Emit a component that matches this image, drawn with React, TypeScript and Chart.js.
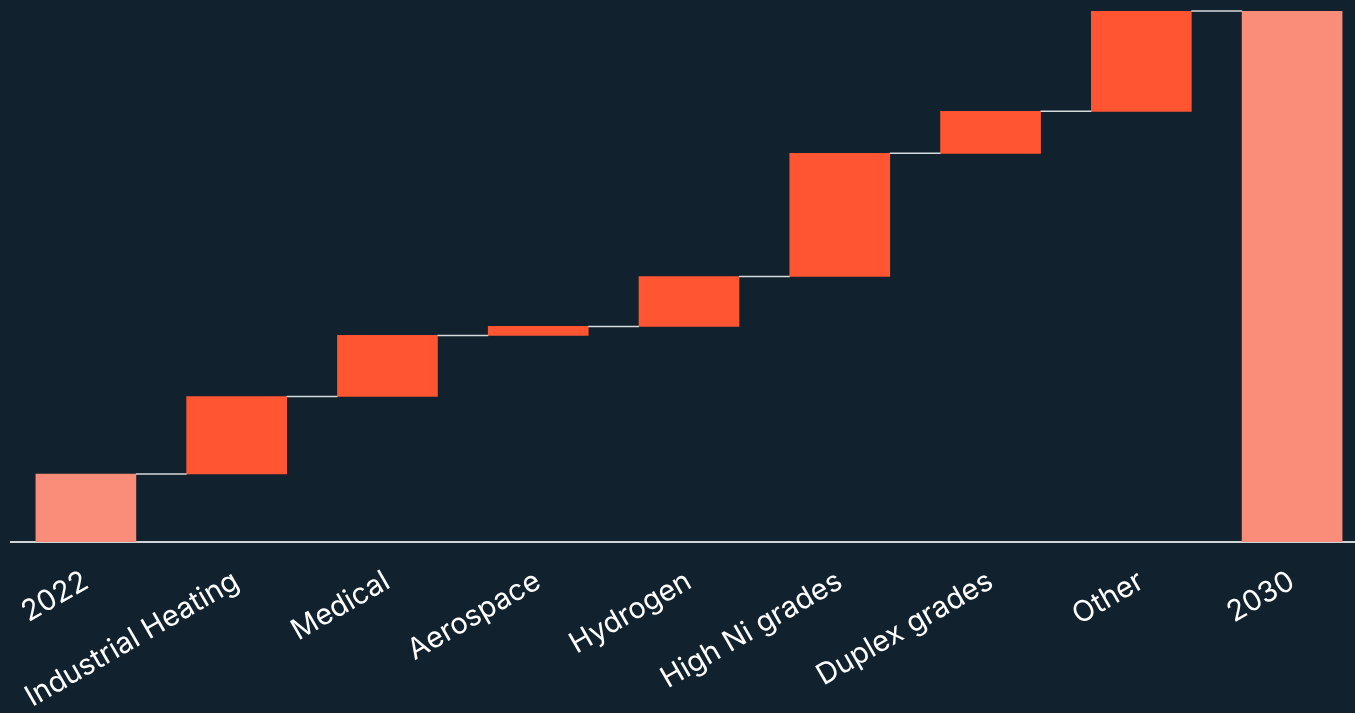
import React, { useEffect, useRef } from "react";
import { Chart, registerables } from "chart.js";

Chart.register(...registerables);

const categories = [
  "2022",
  "Industrial Heating",
  "Medical",
  "Aerospace",
  "Hydrogen",
  "High Ni grades",
  "Duplex grades",
  "Other",
  "2030",
];
const startValue = 12.8;
const increments = [14.6, 11.5, 1.7, 9.4, 23.2, 7.9, 18.9];
const endValue = 100;

const totalColor = "#FA8C7A";
const incColor = "#FF5533";
const bgColor = "#11222E";

function buildRanges(): [number, number][] {
  const ranges: [number, number][] = [[0, startValue]];
  let cur = startValue;
  for (const inc of increments) {
    ranges.push([cur, cur + inc]);
    cur += inc;
  }
  ranges.push([0, endValue]);
  return ranges;
}

export default function App() {
  const ref = useRef<HTMLCanvasElement | null>(null);
  useEffect(() => {
    if (!ref.current) return;
    const ranges = buildRanges();
    const connectorPlugin = {
      id: "connectors",
      afterDatasetsDraw(chart: any) {
        const meta = chart.getDatasetMeta(0);
        const ys = chart.scales.y;
        const ctx = chart.ctx;
        ctx.save();
        ctx.strokeStyle = "#D5DADD";
        ctx.lineWidth = 1.5;
        for (let i = 0; i < meta.data.length - 1; i++) {
          const a = meta.data[i];
          const b = meta.data[i + 1];
          const py = ys.getPixelForValue(ranges[i][1]);
          ctx.beginPath();
          ctx.moveTo(a.x + a.width / 2, py);
          ctx.lineTo(b.x - b.width / 2, py);
          ctx.stroke();
        }
        ctx.restore();
      },
    };
    const chart = new Chart(ref.current, {
      type: "bar",
      data: {
        labels: categories,
        datasets: [
          {
            data: ranges as any,
            backgroundColor: categories.map((_, i) =>
              i === 0 || i === categories.length - 1 ? totalColor : incColor
            ),
            borderWidth: 0,
            borderSkipped: false,
            barThickness: 100,
          },
        ],
      },
      options: {
        responsive: false,
        animation: false,
        layout: { padding: { top: 11, left: 10.5, right: 0.5, bottom: 0 } },
        plugins: {
          legend: { display: false },
          tooltip: { enabled: false },
        },
        scales: {
          x: {
            grid: { display: false, drawTicks: false },
            border: { display: true, color: "#D0D4D7", width: 2 },
            ticks: {
              color: "#FFFFFF",
              font: { family: "Inter", size: 29 },
              maxRotation: 30,
              minRotation: 30,
              autoSkip: false,
              padding: 22,
            },
            afterFit: (scale: any) => {
              scale.height = 171;
              scale.paddingLeft = 0;
              scale.paddingRight = 0;
            },
          },
          y: {
            display: false,
            min: 0,
            max: 100,
          },
        },
      },
      plugins: [connectorPlugin],
    });
    return () => chart.destroy();
  }, []);
  return (
    <div
      style={{
        position: "fixed",
        left: 0,
        top: 0,
        width: 1355,
        height: 713,
        overflow: "hidden",
        background: bgColor,
      }}
    >
      <canvas ref={ref} width={1368} height={713} style={{ display: "block" }} />
    </div>
  );
}
